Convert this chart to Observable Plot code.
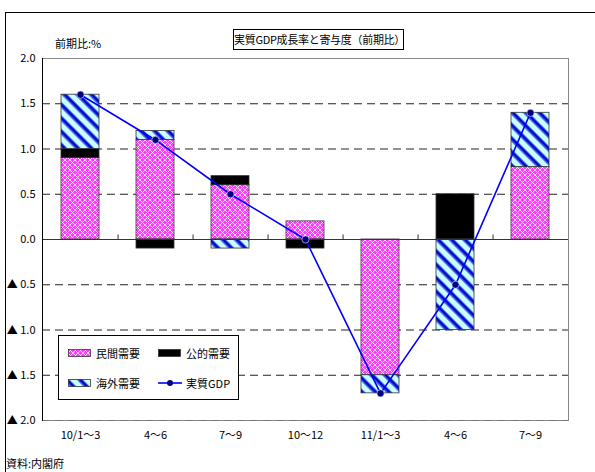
<!DOCTYPE html>
<html><head><meta charset="utf-8">
<script src="https://cdn.jsdelivr.net/npm/d3@7"></script>
<script src="https://cdn.jsdelivr.net/npm/@observablehq/plot@0.6"></script>
<style>
body{margin:0;background:#fff;}
#wrap{position:relative;width:595px;height:472px;overflow:hidden;font-family:"Noto Sans CJK JP","Noto Sans",sans-serif;color:#000;}
#border{position:absolute;left:5px;top:12px;width:620px;height:480px;border-top:1.5px solid #000;border-left:1.5px solid #000;}
#chart{position:absolute;left:0;top:0;}
#title{position:absolute;left:233px;top:29px;width:169px;height:19px;border:1px solid #000;background:#fff;font-size:11px;line-height:19px;text-align:center;white-space:nowrap;letter-spacing:-0.3px;}
#unit{position:absolute;left:55px;top:35px;font-size:11px;line-height:16px;}
#caption{position:absolute;left:6px;top:455px;font-size:11px;line-height:16px;}
#legend{position:absolute;left:58px;top:335px;width:179px;height:63px;border:1px solid #000;background:#fff;font-size:11px;}
.item{position:absolute;display:flex;align-items:center;height:16px;}
.item svg{margin-right:4px;}
</style>
</head><body>
<svg width="0" height="0" style="position:absolute">
<defs>
<pattern id="pPriv" width="5" height="5" patternUnits="userSpaceOnUse">
<rect width="5" height="5" fill="#ff3cff"/>
<path d="M0,0L5,5M5,0L0,5" stroke="#ffffff" stroke-width="0.9" opacity="0.85"/>
</pattern>
<pattern id="pOvs" width="9.5" height="9.5" patternUnits="userSpaceOnUse" patternTransform="rotate(45)">
<rect width="9.5" height="9.5" fill="#c8ffff"/>
<rect y="0" width="9.5" height="1" fill="#4a6cf0"/>
<rect y="1" width="9.5" height="2.6" fill="#0000c8"/>
<rect y="3.6" width="9.5" height="1" fill="#4a6cf0"/>
</pattern>
</defs>
</svg>
<div id="wrap">
<div id="border"></div>
<div id="chart"></div>
<div id="title">実質GDP成長率と寄与度（前期比）</div>
<div id="unit">前期比:%</div>
<div id="caption">資料:内閣府</div>
<div id="legend"></div>
</div>
<script>
// ---- data ----
const quarterLabels = ["10/1〜3", "4〜6", "7〜9", "10〜12", "11/1〜3", "4〜6", "7〜9"];
const seriesNames = ["民間需要", "公的需要", "海外需要"];
const privateDemand = [0.9, 1.1, 0.6, 0.2, -1.5, 0.0, 0.8];
const publicDemand = [0.1, -0.1, 0.1, -0.1, 0.0, 0.5, 0.0];
const overseasDemand = [0.6, 0.1, -0.1, 0.0, -0.2, -1.0, 0.6];
const realGDP = [1.6, 1.1, 0.5, 0.0, -1.7, -0.5, 1.4];
const yTicks = [-2, -1.5, -1, -0.5, 0, 0.5, 1, 1.5, 2];
const gdpName = "実質GDP";

// ---- build ----
const idx = d3.range(quarterLabels.length);
const seriesValues = [privateDemand, publicDemand, overseasDemand];
const rows = [];
idx.forEach(i => seriesNames.forEach((s, k) => rows.push({i, series: s, v: seriesValues[k][i]})));
const gdpRows = idx.map(i => ({i, v: realGDP[i]}));
const fills = ["url(#pPriv)", "#000000", "url(#pOvs)"];
const fmt = d => d < 0 ? "▲ " + Math.abs(d).toFixed(1) : d.toFixed(1);

const W = 595, ML = 42, MR = 27;
const step = (W - ML - MR) / idx.length;

const chart = Plot.plot({
  width: W, height: 472,
  marginTop: 58, marginBottom: 52, marginLeft: ML, marginRight: MR,
  style: {fontFamily: '"Noto Sans CJK JP","Noto Sans",sans-serif', fontSize: "11px", background: "transparent", color: "#000"},
  x: {domain: idx, paddingInner: 0.5, paddingOuter: 0.25, label: null},
  y: {domain: [-2, 2], label: null},
  color: {domain: seriesNames, range: fills},
  marks: [
    Plot.frame({stroke: "#888"}),
    Plot.ruleY(yTicks.filter(d => d !== 0 && d !== 2 && d !== -2), {stroke: "#222", strokeDasharray: "8,5"}),
    Plot.ruleY([-2], {stroke: "#777", strokeDasharray: "8,5"}),
    Plot.barY(rows, {x: "i", y: "v", fill: "series", stroke: "#333", strokeWidth: 0.8}),
    Plot.ruleY([0], {stroke: "#333"}),
    Plot.ruleX(idx.slice(0, -1), {x: d => d, y1: 0, y2: 0.05, dx: step / 2, stroke: "#333"}),
    Plot.frame({anchor: "left", stroke: "#000"}),
    Plot.axisY(yTicks, {tickSize: 0, tickPadding: 7, tickFormat: fmt}),
    Plot.axisX({tickSize: 0, tickPadding: 11, tickFormat: i => quarterLabels[i]}),
    Plot.line(gdpRows, {x: "i", y: "v", stroke: "#0000ff", strokeWidth: 1.6}),
    Plot.dot(gdpRows, {x: "i", y: "v", r: 3.6, fill: "#000080", stroke: "#e0e0ff", strokeWidth: 0.6})
  ]
});
document.getElementById("chart").appendChild(chart);

// ---- legend ----
const legend = document.getElementById("legend");
const items = [
  {name: seriesNames[0], fill: fills[0], x: 9, y: 9},
  {name: seriesNames[1], fill: fills[1], x: 99, y: 9},
  {name: seriesNames[2], fill: fills[2], x: 9, y: 39},
  {name: gdpName, line: true, x: 99, y: 39}
];
items.forEach(it => {
  const d = document.createElement("div");
  d.className = "item";
  d.style.left = it.x + "px";
  d.style.top = it.y + "px";
  const sw = it.line
    ? `<svg width="24" height="10"><line x1="0" y1="5" x2="24" y2="5" stroke="#0000ff" stroke-width="1.6"/><circle cx="12" cy="5" r="3" fill="#000080"/></svg>`
    : `<svg width="24" height="10"><rect x="0.5" y="1.5" width="22" height="7" fill="${it.fill}" stroke="#333" stroke-width="0.8"/></svg>`;
  d.innerHTML = sw + "<span>" + it.name + "</span>";
  legend.appendChild(d);
});
</script>
</body></html>
